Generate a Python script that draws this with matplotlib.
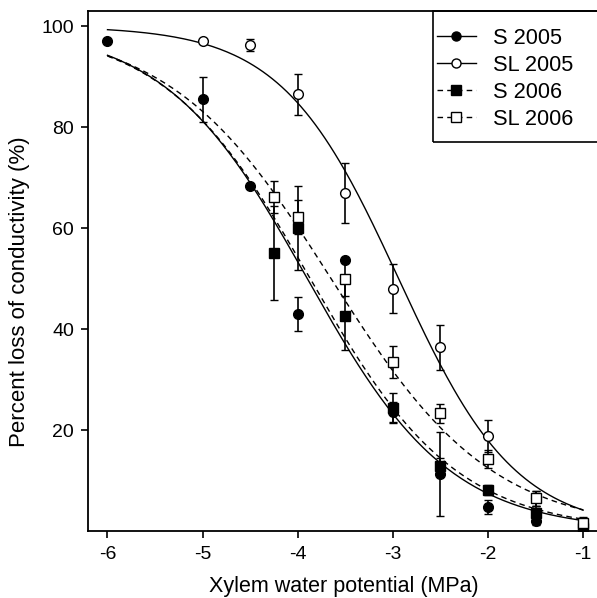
import numpy as np
import matplotlib
matplotlib.use('Agg')
import matplotlib.pyplot as plt
from matplotlib.patches import Rectangle

plt.rcParams['font.family'] = ['Liberation Sans', 'DejaVu Sans']

# measured points (xylem water potential, MPa / PLC %)
x_s05 = [-6, -5, -4.5, -4, -3.5, -3, -2.5, -2, -1.5, -1]
y_s05 = [97, 85.5, 68.4, 43, 53.7, 23.5, 11.3, 4.7, 2.0, 0.4]
e_s05 = [0, 4.5, 0, 3.3, 0, 2.0, 8.4, 1.4, 0.8, 0.3]

x_sl05 = [-5, -4.5, -4, -3.5, -3, -2.5, -2, -1.5, -1]
y_sl05 = [97, 96.3, 86.5, 66.9, 48, 36.4, 18.8, 6.5, 1.7]
e_sl05 = [0, 1.2, 4.0, 5.95, 4.8, 4.5, 3.2, 1.5, 1.0]

x_s06 = [-4.25, -4, -3.5, -3, -2.5, -2, -1.5, -1]
y_s06 = [55, 60, 42.5, 24.3, 12.9, 8.1, 3.5, 0.6]
e_s06 = [9.3, 8.3, 6.7, 3.0, 1.5, 1.0, 1.5, 0.5]

x_sl06 = [-4.25, -4, -3.5, -3, -2.5, -2, -1.5, -1]
y_sl06 = [66.1, 62.2, 50, 33.5, 23.3, 14.2, 6.5, 1.5]
e_sl06 = [3.2, 3.3, 3.5, 3.1, 1.9, 1.8, 1.5, 1.0]

# fitted sigmoid parameters (slope, psi at 50 % loss)
fit_s05 = (1.33, -3.90)
fit_sl05 = (1.62, -2.94)
fit_s06 = (1.30, -3.87)
fit_sl06 = (1.18, -3.65)

labels = ['S 2005', 'SL 2005', 'S 2006', 'SL 2006']
xticks = [-6, -5, -4, -3, -2, -1]
yticks = [20, 40, 60, 80, 100]

fig = plt.figure(figsize=(5.97, 5.98), dpi=100)
ax = fig.add_axes([0.1474, 0.112, 0.8746, 0.8696])

psi = np.linspace(-6, -1, 200)


def sigmoid(p, fit):
    s, x50 = fit
    return 100.0 / (1.0 + np.exp(s * (p - x50)))


series = [
    (x_s05, y_s05, e_s05, fit_s05, 'o', 'black', '-'),
    (x_sl05, y_sl05, e_sl05, fit_sl05, 'o', 'white', '-'),
    (x_s06, y_s06, e_s06, fit_s06, 's', 'black', (0, (4, 3))),
    (x_sl06, y_sl06, e_sl06, fit_sl06, 's', 'white', (0, (4, 3))),
]

handles = []
for (xs, ys, es, fit, mk, fc, ls), lab in zip(series, labels):
    ax.plot(psi, sigmoid(psi, fit), color='black', lw=1.0, ls=ls)
    ax.errorbar(xs, ys, yerr=es, fmt=mk, ms=7, mfc=fc, mec='black', mew=1.0,
                ecolor='black', elinewidth=1.2, capsize=3, capthick=1.0)
    h, = ax.plot([], [], color='black', lw=1.0, ls=ls, marker=mk, ms=6.5,
                 mfc=fc, mec='black', mew=1.0)
    handles.append(h)

ax.set_xlim(-6.205, -0.716)
ax.set_ylim(0, 103)
ax.set_xticks(xticks)
ax.set_xticklabels([str(t) for t in xticks])
ax.set_yticks(yticks)
ax.tick_params(direction='out', length=5, width=1.2, labelsize=14)
ax.tick_params(axis='x', pad=6)
ax.tick_params(axis='y', pad=5)
for sp in ax.spines.values():
    sp.set_linewidth(1.3)

ax.set_xlabel('Xylem water potential (MPa)', fontsize=15.5)
ax.set_ylabel('Percent loss of conductivity (%)', fontsize=16)
ax.xaxis.set_label_coords(0.49, -0.086)
ax.yaxis.set_label_coords(-0.112, 0.46)

# legend box drawn by hand so its padding matches
ax.add_patch(Rectangle((0.661, 0.748), 0.5, 0.252, transform=ax.transAxes,
                       fill=False, ec='black', lw=1.2, clip_on=False, zorder=5))
ax.legend(handles, labels, loc='upper left', bbox_to_anchor=(0.668, 0.968),
          fontsize=15.7, frameon=False, borderaxespad=0, borderpad=0,
          handlelength=1.8, handletextpad=0.8, labelspacing=0.28)

fig.savefig('out.png', dpi=100)
